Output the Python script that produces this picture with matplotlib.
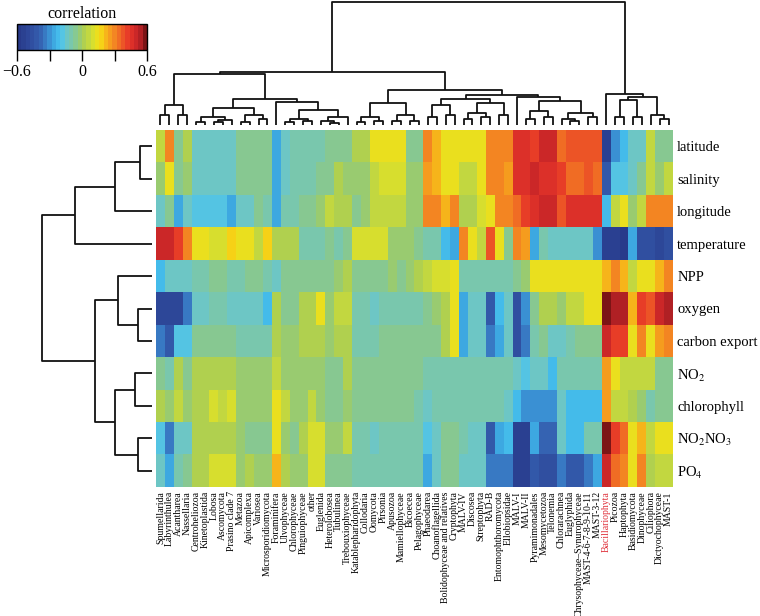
import numpy as np
import matplotlib
matplotlib.use('Agg')
import matplotlib.pyplot as plt
from matplotlib.colors import LinearSegmentedColormap

plt.rcParams['font.family'] = ['Liberation Serif', 'DejaVu Serif']
plt.rcParams['mathtext.fontset'] = 'stix'

taxa = ['Spumellarida', 'Labyrinthulea', 'Acantharea', 'Nassellaria', 'Centroheliozoa',
        'Kinetoplastida', 'Lobosa', 'Ascomycota', 'Prasino clade 7', 'Metazoa',
        'Apicomplexa', 'Variosea', 'Microsporidiomycota', 'Foraminifera', 'Ulvophyceae',
        'Chlorophyceae', 'Pinguiophyceae', 'other', 'Euglenida', 'Heterolobosea',
        'Tubulinea', 'Trebouxiophyceae', 'Katablepharidophyta', 'Collodaria', 'Oomycota',
        'Pirsonia', 'Apusozoa', 'Mamiellophyceae', 'Bicoecea', 'Pelagophyceae',
        'Phaeodarea', 'Choanoflagellida', 'Bolidophyceae and relatives', 'Cryptophyta', 'MALV-IV',
        'Discosea', 'Streptophyta', 'RAD-B', 'Entomophthoromycota', 'Ellobiopsidae',
        'MALV-I', 'MALV-II', 'Pyramimonadales', 'Mesomycetozoa', 'Telonemia',
        'Chlorarachnea', 'Euglyphida', 'Chrysophyceae\u2013Synurophyceae', 'MAST-4-6-7-8-9-10-11', 'MAST-3-12',
        'Bacillariophyta', 'Picozoa', 'Haptophyta', 'Basidiomycota', 'Dinophyceae',
        'Ciliophora', 'Dictyochophyceae', 'MAST-1']

variables = ['latitude', 'salinity', 'longitude', 'temperature', 'NPP', 'oxygen',
             'carbon export', 'NO$_2$', 'chlorophyll', 'NO$_2$NO$_3$', 'PO$_4$']

latitude = [0.05, 0.28, -0.05, 0.02, -0.13, -0.13, -0.15, -0.13, -0.15, -0.07,
            -0.07, -0.07, -0.07, -0.25, -0.13, -0.12, -0.12, -0.12, -0.12, -0.05,
            -0.05, -0.05, 0.02, 0.02, 0.12, 0.12, 0.12, 0.12, -0.05, -0.05,
            0.30, 0.22, 0.15, 0.15, 0.15, 0.15, 0.15, 0.28, 0.30, 0.28,
            0.45, 0.45, 0.40, 0.48, 0.48, 0.33, 0.38, 0.38, 0.38, 0.38,
            -0.55, -0.30, -0.22, -0.15, -0.15, 0.05, -0.05, -0.05]
salinity = [-0.03, 0.15, -0.05, -0.03, -0.13, -0.13, -0.15, -0.13, -0.15, -0.07,
            -0.07, -0.07, -0.07, -0.25, -0.13, -0.12, -0.12, -0.12, -0.08, -0.05,
            0.02, -0.03, -0.03, -0.03, 0.05, 0.10, 0.10, 0.10, -0.03, -0.03,
            0.25, 0.22, 0.15, 0.15, 0.05, 0.05, 0.12, 0.28, 0.28, 0.25,
            0.45, 0.45, 0.50, 0.45, 0.45, 0.40, 0.35, 0.35, 0.38, 0.35,
            -0.42, -0.18, -0.18, -0.15, -0.05, 0.05, -0.03, 0.05]
longitude = [-0.15, -0.08, -0.25, -0.13, -0.18, -0.18, -0.18, -0.18, -0.25, -0.13,
             -0.13, -0.07, -0.12, -0.25, -0.12, -0.12, -0.05, -0.05, -0.03, 0.05,
             0.03, 0.00, -0.05, -0.03, 0.05, 0.05, 0.05, 0.05, -0.03, -0.03,
             0.30, 0.28, 0.20, 0.28, 0.00, 0.02, 0.08, 0.15, 0.28, 0.30,
             0.35, 0.40, 0.45, 0.48, 0.48, 0.38, 0.45, 0.45, 0.45, 0.45,
             -0.22, 0.05, 0.12, -0.03, 0.05, 0.30, 0.30, 0.30]
temperature = [0.50, 0.48, 0.42, 0.30, 0.15, 0.15, 0.08, 0.08, 0.17, 0.15,
               0.15, 0.05, 0.18, 0.00, 0.00, 0.00, -0.12, -0.12, -0.12, -0.05,
               -0.12, -0.07, 0.08, 0.08, 0.10, 0.10, -0.03, -0.03, -0.03, -0.08,
               -0.12, -0.12, -0.22, -0.25, 0.28, 0.15, 0.05, 0.38, 0.12, -0.05,
               0.30, 0.25, -0.25, -0.10, -0.15, -0.15, -0.15, -0.15, -0.15, -0.30,
               -0.55, -0.55, -0.58, -0.25, -0.45, -0.45, -0.50, -0.45]
npp = [-0.22, -0.15, -0.15, -0.13, -0.10, -0.10, -0.08, -0.08, -0.10, -0.10,
       -0.05, -0.05, -0.10, -0.13, -0.05, -0.05, -0.05, -0.05, -0.05, -0.05,
       -0.03, 0.00, -0.05, -0.05, -0.05, -0.05, -0.03, -0.05, -0.03, 0.00,
       0.05, 0.10, 0.08, 0.12, -0.12, -0.12, -0.12, -0.12, -0.10, -0.12,
       -0.05, -0.02, 0.15, 0.15, 0.15, 0.15, 0.15, 0.15, 0.15, 0.15,
       0.22, 0.28, 0.22, 0.05, 0.15, 0.15, 0.22, 0.28]
oxygen = [-0.50, -0.50, -0.50, -0.32, -0.15, -0.15, -0.10, -0.10, -0.15, -0.13,
          -0.13, -0.13, -0.22, 0.02, -0.05, -0.05, 0.03, 0.03, 0.12, -0.03,
          0.05, 0.05, -0.12, -0.12, -0.13, -0.12, -0.12, -0.12, -0.12, -0.12,
          -0.08, -0.02, 0.02, 0.12, -0.25, -0.15, -0.15, -0.42, -0.22, -0.15,
          -0.45, -0.30, -0.05, 0.02, 0.03, -0.03, 0.05, 0.05, 0.12, 0.14,
          0.60, 0.55, 0.55, 0.22, 0.42, 0.38, 0.48, 0.52]
carbon_export = [-0.35, -0.42, -0.20, -0.18, -0.08, -0.08, -0.07, -0.07, -0.07, -0.10,
                 -0.12, -0.12, -0.12, 0.02, -0.03, -0.03, 0.02, 0.02, 0.02, -0.03,
                 0.00, 0.03, -0.10, -0.12, -0.12, -0.08, -0.08, -0.08, -0.07, -0.07,
                 -0.07, -0.05, 0.03, 0.12, -0.25, -0.15, -0.15, -0.32, -0.25, -0.15,
                 -0.45, -0.35, -0.10, -0.08, -0.15, -0.15, -0.10, -0.08, -0.05, -0.05,
                 0.50, 0.42, 0.42, 0.15, 0.30, 0.12, 0.25, 0.30]
no2 = [-0.05, -0.10, 0.02, -0.05, 0.03, 0.03, 0.03, 0.03, 0.03, -0.02,
       -0.03, -0.03, -0.03, 0.06, -0.03, -0.03, -0.03, -0.03, -0.03, -0.08,
       -0.08, 0.03, -0.07, -0.07, -0.07, -0.07, -0.07, -0.07, -0.07, -0.07,
       -0.12, -0.10, -0.10, -0.10, -0.10, -0.10, -0.10, -0.10, -0.10, -0.10,
       -0.15, -0.20, -0.15, -0.15, -0.22, -0.12, -0.12, -0.12, -0.12, -0.12,
       0.25, 0.12, 0.05, 0.05, 0.05, 0.05, -0.05, -0.05]
chlorophyll = [0.02, -0.03, 0.05, -0.03, 0.03, 0.03, 0.10, 0.05, 0.10, -0.03,
               -0.03, -0.03, -0.03, 0.15, 0.05, -0.03, -0.03, 0.05, -0.03, -0.08,
               -0.08, -0.03, -0.07, -0.07, -0.07, -0.05, -0.07, -0.07, -0.07, -0.10,
               -0.13, -0.10, -0.10, -0.10, -0.10, -0.10, -0.10, -0.10, -0.10, -0.13,
               -0.22, -0.30, -0.30, -0.30, -0.30, -0.15, -0.22, -0.22, -0.22, -0.22,
               0.25, 0.05, 0.05, 0.02, -0.03, -0.12, -0.05, -0.05]
no2no3 = [-0.17, -0.35, -0.13, -0.13, 0.02, 0.02, 0.03, 0.03, 0.03, -0.03,
          -0.05, -0.05, -0.05, 0.13, -0.03, -0.05, 0.03, 0.08, 0.08, -0.03,
          -0.03, 0.05, -0.12, -0.12, -0.15, -0.12, -0.12, -0.12, -0.12, -0.12,
          -0.18, -0.13, -0.05, -0.05, -0.12, -0.15, -0.15, -0.40, -0.25, -0.22,
          -0.55, -0.55, -0.25, -0.38, -0.38, -0.15, -0.22, -0.22, -0.12, -0.12,
          0.60, 0.40, 0.35, 0.15, 0.22, 0.05, 0.15, 0.15]
po4 = [-0.15, -0.25, -0.10, -0.08, 0.03, 0.03, 0.10, 0.10, 0.10, -0.02,
       0.03, -0.03, -0.03, 0.20, 0.02, -0.03, -0.03, 0.08, 0.08, -0.05,
       -0.07, -0.05, -0.10, -0.10, -0.12, -0.10, -0.10, -0.10, -0.10, -0.10,
       -0.25, -0.15, -0.08, -0.08, -0.15, -0.15, -0.15, -0.35, -0.35, -0.35,
       -0.55, -0.55, -0.40, -0.48, -0.48, -0.35, -0.42, -0.42, -0.35, -0.25,
       0.50, 0.35, 0.30, 0.15, 0.28, 0.00, 0.05, 0.05]

# dendrograms: (merge height, left, right); leaves are column / row indices
tree_A = (20, (10, 0, 1), (10, 2, 3))
tree_B = (17, (8, (3, 4, 5), (5, (3, 6, 7), 8)), (10, (3, 9, 10), (6, 11, 12)))
tree_C1 = (15, (6, (3, 14, 15), (4, 16, 17)), (8, (4, 18, (2, 19, 20)), 21))
tree_C2 = (22, (8, (3, 22, 23), (4, 24, 25)), (10, (4, 26, 27), (4, 28, 29)))
tree_D1 = (26, (20, (8, 30, 31), (10, 32, 33)), (22, (12, (6, 34, 35), (8, 36, 37)), (10, 38, 39)))
tree_D2 = (28, 40, (24, (14, (6, 41, 42), (8, 43, 44)), (12, (6, 45, (4, 46, 47)), (8, 48, 49))))
tree_E = (31, 50, (28, (25, (8, 51, 52), (8, 53, 54)), (10, 55, (6, 56, 57))))
tree_Y = (51, tree_A, (26, tree_B, (23, 13, tree_C1)))
tree_X = (35, tree_C2, (30, tree_D1, tree_D2))
col_tree = (123, (53, tree_Y, tree_X), tree_E)
row_tree = (110, (77, (37, (12, 0, 1), 2), 3), (57, (34, 4, (14, 5, 6)), (37, (17, 7, 8), (14, 9, 10))))

data = np.array([latitude, salinity, longitude, temperature, npp, oxygen,
                 carbon_export, no2, chlorophyll, no2no3, po4])

stops = [(-0.60, '#283a8a'), (-0.50, '#2f4a9c'), (-0.40, '#3560b0'), (-0.32, '#3a8bd0'),
         (-0.25, '#3fb4e8'), (-0.20, '#4cc4ee'), (-0.15, '#6cc6c8'), (-0.08, '#80c8a0'),
         (-0.03, '#94ca78'), (0.02, '#b0d050'), (0.08, '#cadb3a'), (0.13, '#e6e322'),
         (0.18, '#f6d616'), (0.24, '#f7ac1c'), (0.30, '#f48c22'), (0.37, '#ef6226'),
         (0.44, '#e73a28'), (0.50, '#d62a2a'), (0.56, '#b02024'), (0.60, '#7c1416')]
cmap = LinearSegmentedColormap.from_list('corr', [((v + 0.6) / 1.2, c) for v, c in stops], N=30)

W, H = 760.0, 616.0
def box(x0, y0, x1, y1):
  return [x0 / W, 1 - y1 / H, (x1 - x0) / W, (y1 - y0) / H]

def draw_tree(ax, node, vertical):
  if isinstance(node, int):
    return node, 0.0
  h, a, b = node
  xa, ha = draw_tree(ax, a, vertical)
  xb, hb = draw_tree(ax, b, vertical)
  pos = [xa, xa, xb, xb]
  hts = [ha, h, h, hb]
  if vertical:
    ax.plot(pos, hts, color='#111111', lw=1.3, solid_capstyle='butt')
  else:
    ax.plot(hts, pos, color='#111111', lw=1.3, solid_capstyle='butt')
  return (xa + xb) / 2.0, h

fig = plt.figure(figsize=(7.6, 6.16), dpi=100)

# heatmap
ax = fig.add_axes(box(156, 130, 673, 487))
im = ax.imshow(data, aspect='auto', cmap=cmap, vmin=-0.6, vmax=0.6, interpolation='nearest')
for s in ax.spines.values():
  s.set_visible(False)
ax.set_xticks(range(len(taxa)))
ax.set_xticklabels(taxa, rotation=90, fontsize=7)
ax.get_xticklabels()[taxa.index('Bacillariophyta')].set_color('#e0303a')
ax.yaxis.tick_right()
ax.set_yticks(range(len(variables)))
ax.set_yticklabels(variables, fontsize=10.5)
ax.tick_params(axis='x', length=0, pad=3)
ax.tick_params(axis='y', length=0, pad=3)

# column dendrogram
axc = fig.add_axes(box(156, 1, 673, 125))
draw_tree(axc, col_tree, True)
axc.set_xlim(-0.5, len(taxa) - 0.5)
axc.set_ylim(0, 124)
axc.axis('off')

# row dendrogram
axr = fig.add_axes(box(38, 130, 152, 487))
draw_tree(axr, row_tree, False)
axr.set_ylim(len(variables) - 0.5, -0.5)
axr.set_xlim(114, 0)
axr.axis('off')

# colour key
cax = fig.add_axes(box(17, 24, 147, 50))
cb = fig.colorbar(im, cax=cax, orientation='horizontal', ticks=[-0.6, -0.3, 0, 0.3, 0.6])
cb.set_ticklabels(['\u22120.6', '', '0', '', '0.6'])
cb.outline.set_linewidth(1.0)
cax.tick_params(length=8, width=1, labelsize=11.5, pad=2)
cax.set_title('correlation', fontsize=11.5, pad=4)

fig.savefig('out.png', dpi=100)
